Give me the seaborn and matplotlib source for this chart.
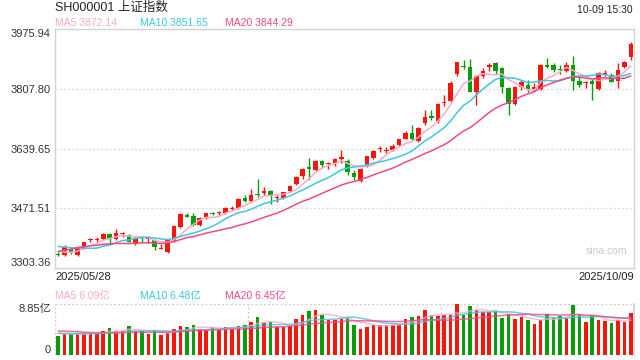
import numpy as np
import pandas as pd
import matplotlib
matplotlib.use("Agg")
import matplotlib.pyplot as plt
import seaborn as sns

# 上证指数 日K 2025/05/28 - 2025/10/09
first_date = "2025/05/28"
last_date = "2025/10/09"
stamp = "10-09 15:30"

open_ = [3342, 3340, 3358, 3339, 3360, 3382, 3383, 3386, 3399, 3386,
         3400, 3396, 3372, 3389, 3386, 3382, 3357, 3348, 3380, 3419,
         3452, 3450, 3424, 3445, 3459, 3457, 3459, 3470, 3473, 3500,
         3491, 3512, 3514, 3519, 3500, 3502, 3520, 3541, 3562, 3589,
         3579, 3604, 3595, 3598, 3611, 3606, 3570, 3549, 3591, 3614,
         3638, 3634, 3637, 3649, 3668, 3685, 3660, 3713, 3733, 3717,
         3769, 3773, 3849, 3872, 3870, 3798, 3844, 3870, 3880, 3866,
         3810, 3766, 3814, 3818, 3809, 3808, 3876, 3876, 3864, 3859,
         3876, 3831, 3826, 3831, 3807, 3851, 3848, 3829, 3871, 3899]
high = [3348, 3367, 3360, 3364, 3378, 3388, 3390, 3402, 3402, 3412,
        3406, 3399, 3391, 3391, 3390, 3385, 3372, 3384, 3424, 3459,
        3459, 3459, 3447, 3459, 3462, 3465, 3476, 3479, 3500, 3510,
        3527, 3555, 3532, 3524, 3509, 3518, 3536, 3562, 3584, 3614,
        3608, 3608, 3602, 3613, 3637, 3610, 3580, 3586, 3620, 3636,
        3647, 3644, 3654, 3668, 3688, 3706, 3700, 3748, 3748, 3767,
        3790, 3829, 3884, 3890, 3891, 3846, 3866, 3880, 3884, 3870,
        3814, 3816, 3833, 3832, 3824, 3877, 3894, 3882, 3874, 3883,
        3902, 3844, 3830, 3838, 3857, 3862, 3852, 3882, 3886, 3939]
low = [3336, 3338, 3344, 3338, 3356, 3376, 3378, 3382, 3368, 3382,
       3390, 3376, 3369, 3378, 3374, 3353, 3356, 3346, 3378, 3416,
       3446, 3422, 3422, 3442, 3452, 3454, 3456, 3466, 3470, 3489,
       3489, 3504, 3510, 3484, 3490, 3499, 3517, 3537, 3554, 3552,
       3576, 3586, 3582, 3592, 3598, 3564, 3551, 3547, 3589, 3611,
       3629, 3628, 3634, 3647, 3666, 3665, 3657, 3705, 3719, 3712,
       3759, 3770, 3844, 3863, 3799, 3764, 3840, 3859, 3851, 3796,
       3735, 3762, 3805, 3800, 3800, 3804, 3866, 3856, 3849, 3856,
       3804, 3812, 3811, 3777, 3804, 3843, 3827, 3810, 3868, 3890]
close = [3339.93, 3363.45, 3347.49, 3361.98, 3376.20, 3384.82, 3385.36, 3399.77, 3384.82, 3402.32,
         3402.66, 3377.00, 3388.73, 3387.40, 3388.81, 3362.11, 3359.90, 3381.58, 3420.57, 3455.97,
         3448.45, 3424.23, 3444.43, 3457.75, 3454.79, 3461.15, 3472.32, 3473.13, 3497.48, 3493.05,
         3509.68, 3510.18, 3519.65, 3505.00, 3503.78, 3516.83, 3534.48, 3559.79, 3581.86, 3582.30,
         3605.73, 3593.66, 3597.94, 3609.71, 3615.72, 3573.21, 3559.95, 3583.31, 3617.60, 3633.99,
         3639.67, 3635.13, 3647.55, 3665.92, 3683.46, 3666.44, 3696.77, 3728.03, 3727.29, 3766.21,
         3771.10, 3825.76, 3883.56, 3868.38, 3800.35, 3843.60, 3857.93, 3875.53, 3858.13, 3813.56,
         3765.88, 3812.51, 3826.84, 3807.29, 3812.22, 3875.31, 3870.60, 3860.50, 3861.87, 3876.34,
         3831.66, 3820.09, 3828.58, 3821.83, 3853.64, 3853.30, 3828.11, 3862.53, 3882.78, 3933.97]
# 成交量 (亿)
volume = [3.3, 3.6, 3.6, 3.8, 3.8, 3.8, 3.8, 4.2, 4.75, 4.2,
          4.1, 5.1, 4.1, 4.1, 3.7, 4.4, 3.5, 3.8, 4.55, 5.1,
          4.85, 5.3, 4.55, 4.4, 4.8, 4.4, 4.85, 4.75, 5.0, 5.3,
          5.7, 6.7, 5.6, 5.7, 4.8, 4.8, 5.0, 6.35, 7.05, 7.6,
          7.8, 6.9, 6.05, 6.05, 6.3, 6.6, 5.15, 4.6, 4.95, 5.2,
          5.3, 5.3, 5.3, 5.3, 6.2, 6.55, 6.75, 7.8, 6.9, 6.75,
          6.95, 7.0, 8.85, 6.95, 8.5, 7.9, 7.5, 7.5, 7.6, 6.4,
          7.1, 6.25, 6.7, 6.05, 5.35, 6.1, 7.1, 6.4, 6.75, 6.4,
          8.7, 6.95, 5.7, 6.95, 6.05, 5.85, 5.5, 6.1, 5.7, 7.3]
# 区间之前的19个交易日 (用于均线)
prev_close = [3288.41, 3286.65, 3279.03, 3316.11, 3342.67, 3352.00, 3342.00, 3369.24, 3374.87, 3403.95,
              3380.82, 3367.46, 3367.58, 3380.48, 3387.57, 3380.19, 3348.37, 3346.84, 3340.69]
prev_volume = [4.6, 4.3, 4.9, 5.3, 4.7, 4.5, 4.4, 4.8, 4.2, 4.0,
               3.9, 4.1, 3.8, 3.7, 3.9, 3.8, 3.7, 3.9, 4.0]

price_ticks = [3303.36, 3471.51, 3639.65, 3807.80, 3975.94]
vol_max = 8.85

UP = "#f3170c"
DOWN = "#0b9c0b"
MA_COLORS = {"MA5": "#fcaac7", "MA10": "#3ec6e3", "MA20": "#ef4b83"}

df = pd.DataFrame({"open": open_, "high": high, "low": low, "close": close, "volume": volume})
df["x"] = np.arange(len(df))
n_prev = len(prev_close)
all_close = pd.Series(prev_close + close)
all_vol = pd.Series(prev_volume + volume)
for n in (5, 10, 20):
    df[f"MA{n}"] = all_close.rolling(n).mean().iloc[n_prev:].values
    df[f"VMA{n}"] = all_vol.rolling(n).mean().iloc[n_prev:].values

sns.set_theme(style="white")
plt.rcParams["font.family"] = ["Liberation Sans", "Noto Sans CJK SC", "DejaVu Sans"]

W, H = 640, 360
fig = plt.figure(figsize=(6.4, 3.6), dpi=100)
ax = fig.add_axes([55 / W, 1 - 268 / H, 579 / W, 238.7 / H])
axv = fig.add_axes([55 / W, 1 - 355 / H, 579 / W, 50.8 / H])

colors = np.where(df.close >= df.open, UP, DOWN)

# K线
ax.vlines(df.x, df.low, df.high, colors=colors, linewidth=1, zorder=2)
body = (df.close - df.open).abs().clip(lower=2.8)
ax.bar(df.x, body, bottom=np.minimum(df.open, df.close), width=0.7,
       color=colors, linewidth=0, zorder=3)

ma_long = df.melt(id_vars="x", value_vars=["MA5", "MA10", "MA20"], var_name="ma", value_name="v")
sns.lineplot(data=ma_long, x="x", y="v", hue="ma", palette=MA_COLORS, ax=ax,
             linewidth=1.1, legend=False, zorder=4)

ax.set_xlim(-0.5, len(df) - 0.5)
ax.set_ylim(price_ticks[0], price_ticks[-1])
ax.set_yticks(price_ticks)
ax.set_yticklabels([f"{v:.2f}" for v in price_ticks])
ax.set_xticks([])
ax.set_xlabel("")
ax.set_ylabel("")
for v in price_ticks[1:-1]:
    ax.axhline(v, color="#dcdcdc", linewidth=1, linestyle=(0, (1.5, 1.5)), zorder=1)
for s in ax.spines.values():
    s.set_color("#d2d2d2")
    s.set_linewidth(1)
ax.tick_params(axis="y", length=0, pad=3, labelsize=8, labelcolor="#333333")
ylabels = ax.get_yticklabels()
ylabels[0].set_va("bottom")
ylabels[-1].set_va("top")

# 成交量
axv.bar(df.x, df.volume, width=0.55, color=colors, linewidth=0, zorder=2)
vma_long = df.melt(id_vars="x", value_vars=["VMA5", "VMA10", "VMA20"], var_name="ma", value_name="v")
vma_long["ma"] = vma_long["ma"].str.replace("V", "")
sns.lineplot(data=vma_long, x="x", y="v", hue="ma", palette=MA_COLORS, ax=axv,
             linewidth=1.1, alpha=0.8, legend=False, zorder=3)
axv.set_xlim(-0.5, len(df) - 0.5)
axv.set_ylim(0, vol_max)
axv.set_yticks([0, vol_max])
axv.set_yticklabels(["0", f"{vol_max:.2f}亿"])
axv.set_xticks([])
axv.set_xlabel("")
axv.set_ylabel("")
for side in ("top", "bottom", "left"):
    axv.spines[side].set_visible(False)
axv.spines["right"].set_color("#d2d2d2")
dot = dict(color="#cfcfcf", linewidth=1, linestyle=(0, (1.5, 1.5)), zorder=1)
axv.axhline(0, **dot)
axv.axhline(vol_max, **dot)
axv.axvline(-0.5, **dot)
for xv in (29.5, 59.5):
    axv.axvline(xv, **dot)
axv.tick_params(axis="y", length=0, pad=3, labelsize=8, labelcolor="#333333")
vlabels = axv.get_yticklabels()
vlabels[0].set_va("bottom")
vlabels[-1].set_va("top")


def put(x, y, s, **kw):
    fig.text(x / W, 1 - y / H, s, va="center", **kw)


put(55, 8, "SH000001 上证指数", fontsize=9, color="#222222")
put(633, 10, stamp, fontsize=7.5, color="#222222", ha="right")
last = df.iloc[-1]
for (name, col), xp in zip(MA_COLORS.items(), (55, 140, 225)):
    put(xp, 23.5, f"{name} {last[name]:.2f}", fontsize=7.5, color=col)
    put(xp, 295.5, f"{name} {last['V' + name]:.2f}亿", fontsize=7.5, color=col)
put(55, 277, first_date, fontsize=8, color="#222222")
put(634, 277, last_date, fontsize=8, color="#222222", ha="right")
put(606, 251, "sina.com", fontsize=7.5, color="#c9c9c9", ha="center")

fig.savefig("out.png", dpi=100)
